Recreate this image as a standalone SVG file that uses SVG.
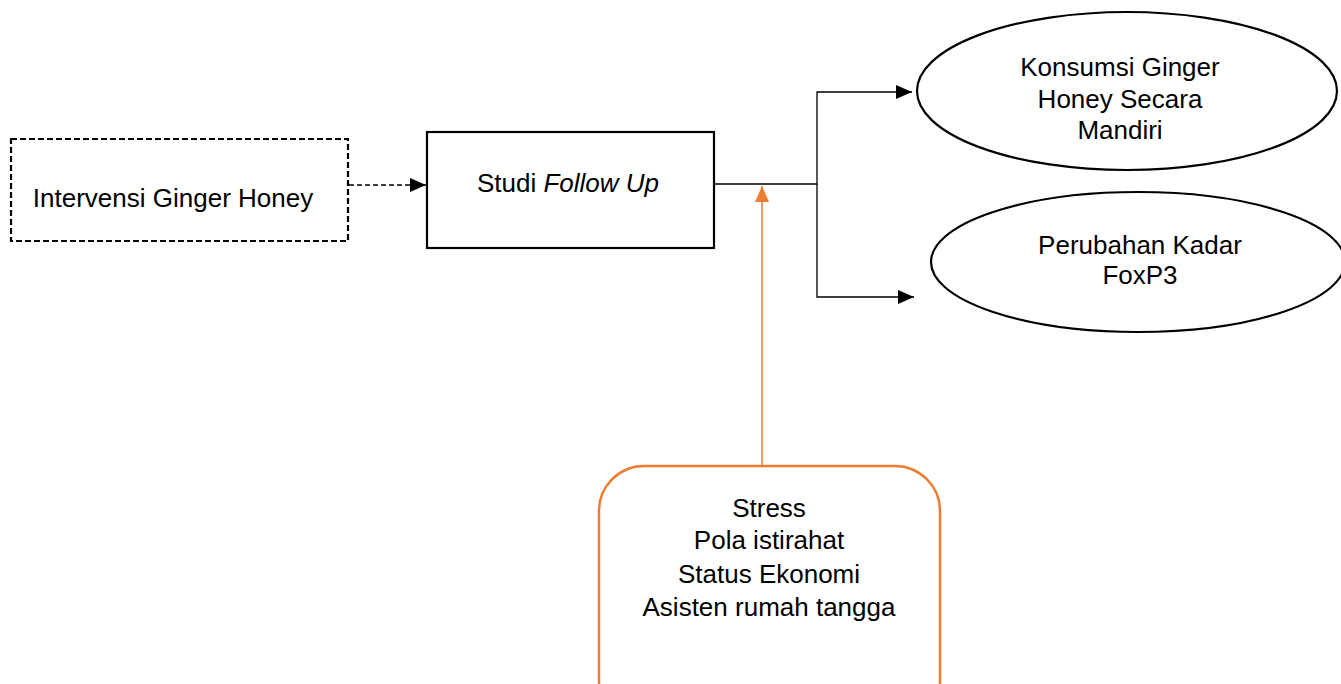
<svg xmlns="http://www.w3.org/2000/svg" width="1341" height="684" viewBox="0 0 1341 684">
<style>
text{font-family:"Liberation Sans",Arial,sans-serif;font-size:26px;fill:#000;text-anchor:middle}
.node{fill:#fff;stroke:#000;stroke-width:2.2}
.edge{fill:none;stroke:#000;stroke-width:1.3}
</style>
<defs>
<marker id="ah" viewBox="0 0 10 10" refX="10" refY="5" markerWidth="16" markerHeight="14" markerUnits="userSpaceOnUse" orient="auto" preserveAspectRatio="none"><path d="M0,0L10,5L0,10Z" fill="#000"/></marker>
<marker id="aho" viewBox="0 0 10 10" refX="10" refY="5" markerWidth="16" markerHeight="14" markerUnits="userSpaceOnUse" orient="auto" preserveAspectRatio="none"><path d="M0,0L10,5L0,10Z" fill="#ED7D31"/></marker>
</defs>
<g id="connectors">
<path class="edge" d="M349,185H426" stroke-dasharray="5,3" marker-end="url(#ah)"/>
<path class="edge" d="M715,184H817V92H912" marker-end="url(#ah)"/>
<path class="edge" d="M817,184V297H914" marker-end="url(#ah)"/>
<path d="M762,465V186" fill="none" stroke="#ED7D31" stroke-width="1.5" marker-end="url(#aho)"/>
</g>
<g id="intervensi">
<rect x="11" y="139" width="337" height="102" class="node" stroke-dasharray="6,3"/>
<text x="173" y="207">Intervensi Ginger Honey</text>
</g>
<g id="studi">
<rect x="427" y="132" width="287" height="116" class="node"/>
<text x="568" y="192">Studi <tspan font-style="italic">Follow Up</tspan></text>
</g>
<g id="konsumsi">
<ellipse cx="1127" cy="91" rx="210" ry="79" class="node"/>
<text x="1120" y="76">Konsumsi Ginger</text>
<text x="1120" y="108">Honey Secara</text>
<text x="1120" y="139">Mandiri</text>
</g>
<g id="foxp3">
<ellipse cx="1138" cy="262" rx="207" ry="70" class="node"/>
<text x="1140" y="254">Perubahan Kadar</text>
<text x="1140" y="284">FoxP3</text>
</g>
<g id="faktor">
<rect x="599" y="466" width="341" height="260" rx="45" fill="#fff" stroke="#ED7D31" stroke-width="2.5"/>
<text x="769" y="517">Stress</text>
<text x="769" y="549">Pola istirahat</text>
<text x="769" y="583">Status Ekonomi</text>
<text x="769" y="616">Asisten rumah tangga</text>
</g>
</svg>
